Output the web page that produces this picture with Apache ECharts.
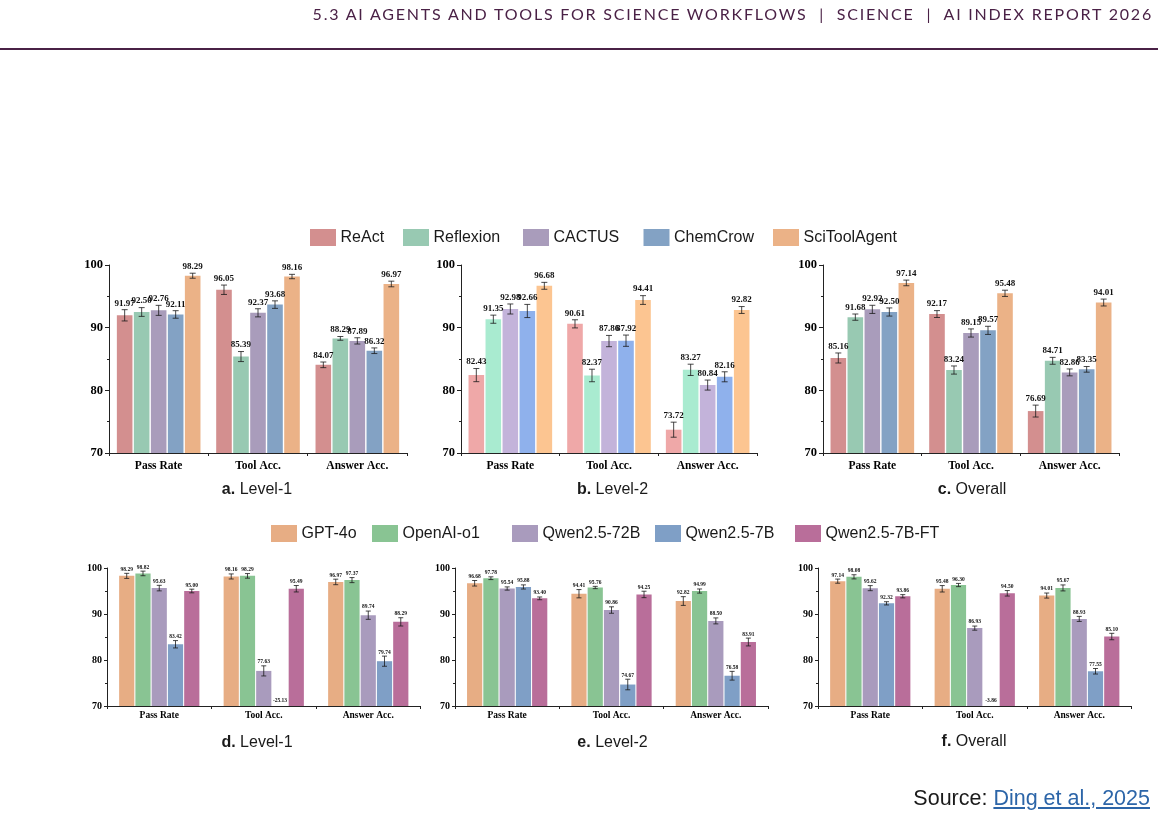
<!DOCTYPE html>
<html><head><meta charset="utf-8">
<script src="https://cdn.jsdelivr.net/npm/echarts@6/dist/echarts.min.js"></script>
<style>
html,body{margin:0;padding:0;width:1158px;height:833px;overflow:hidden;background:#fff;}
#chart{position:absolute;left:0;top:0;width:1158px;height:833px;}
#hdr{position:absolute;right:5px;top:4px;font-family:'Lato','Noto Sans',sans-serif;font-size:16px;letter-spacing:1.8px;color:#4a2146;white-space:nowrap;}
#rule{position:absolute;left:0;top:48px;width:1158px;height:2px;background:#4a2146;}
#src{position:absolute;right:8px;top:786px;font-family:'Liberation Sans',Arial,sans-serif;font-size:21.5px;color:#1a1a1a;white-space:nowrap;}
#src a{color:#2c65a8;text-decoration:underline;}
</style></head>
<body>
<div id="chart"></div>
<div id="hdr">5.3 AI AGENTS AND TOOLS FOR SCIENCE WORKFLOWS &nbsp;|&nbsp; SCIENCE &nbsp;|&nbsp; AI INDEX REPORT 2026</div>
<div id="rule"></div>
<div id="src">Source: <a href="#">Ding et al., 2025</a></div>
<script>
// ---------- DATA ----------
const metrics = ['Pass Rate', 'Tool Acc.', 'Answer Acc.'];
const agents = ['ReAct', 'Reflexion', 'CACTUS', 'ChemCrow', 'SciToolAgent'];
const models = ['GPT-4o', 'OpenAI-o1', 'Qwen2.5-72B', 'Qwen2.5-7B', 'Qwen2.5-7B-FT'];
const yTicks = [70, 80, 90, 100];

// rows = agents / models, columns = metrics
const panelA = [[91.97, 96.05, 84.07], [92.50, 85.39, 88.29], [92.76, 92.37, 87.89], [92.11, 93.68, 86.32], [98.29, 98.16, 96.97]];
const panelAErr = [[0.9, 0.75, 0.45], [0.7, 0.8, 0.3], [0.8, 0.65, 0.5], [0.6, 0.6, 0.45], [0.4, 0.35, 0.45]];
const panelB = [[82.43, 90.61, 73.72], [91.35, 82.37, 83.27], [92.98, 87.86, 80.84], [92.66, 87.92, 82.16], [96.68, 94.41, 92.82]];
const panelBErr = [[1.05, 0.65, 1.2], [0.65, 1.0, 0.9], [0.8, 0.9, 0.8], [1.05, 0.9, 0.8], [0.55, 0.7, 0.55]];
const panelC = [[85.16, 92.17, 76.69], [91.68, 83.24, 84.71], [92.92, 89.15, 82.86], [92.50, 89.57, 83.35], [97.14, 95.48, 94.01]];
const panelCErr = [[0.8, 0.55, 0.95], [0.5, 0.65, 0.55], [0.65, 0.65, 0.55], [0.65, 0.65, 0.45], [0.45, 0.5, 0.55]];
const panelD = [[98.29, 98.16, 96.97], [98.82, 98.29, 97.37], [95.63, 77.63, 89.74], [83.42, 25.13, 79.74], [95.00, 95.49, 88.29]];
const panelDErr = [[0.55, 0.55, 0.6], [0.5, 0.5, 0.55], [0.6, 1.1, 0.9], [0.8, 0, 1.1], [0.4, 0.7, 0.9]];
const panelE = [[96.68, 94.41, 92.82], [97.78, 95.76, 94.99], [95.54, 90.86, 88.50], [95.88, 74.67, 76.58], [93.40, 94.25, 83.91]];
const panelEErr = [[0.6, 0.9, 0.95], [0.3, 0.25, 0.45], [0.35, 0.7, 0.65], [0.45, 1.15, 0.95], [0.3, 0.7, 0.85]];
const panelF = [[97.14, 95.48, 94.01], [98.08, 96.30, 95.67], [95.62, 86.93, 88.93], [92.32, 3.86, 77.55], [93.86, 94.50, 85.10]];
const panelFErr = [[0.45, 0.7, 0.55], [0.45, 0.35, 0.65], [0.55, 0.45, 0.55], [0.35, 0, 0.6], [0.35, 0.6, 0.7]];

const titleLetters = ['a.', 'b.', 'c.', 'd.', 'e.', 'f.'];
const titleNames = ['Level-1', 'Level-2', 'Overall', 'Level-1', 'Level-2', 'Overall'];

// ---------- STYLE / LAYOUT ----------
const agentColors = ['#d38f8f', '#98c9b2', '#a99cbb', '#83a2c4', '#ebb287'];
const agentColorsB = ['#efa8a8', '#a9ebd0', '#c3b3da', '#8fb1ec', '#fcc591'];
const modelColors = ['#e7ad84', '#89c493', '#a99bbd', '#7f9fc6', '#b96e9a'];
const SERIF = '"Liberation Serif","Times New Roman",serif';
const SANS = '"Liberation Sans",Arial,sans-serif';

const panels = [
  {vals: panelA, errs: panelAErr, names: agents, colors: agentColors, grid: {left: 109, width: 298, top: 265, height: 188}, small: false, title: [257, 490]},
  {vals: panelB, errs: panelBErr, names: agents, colors: agentColorsB, grid: {left: 461, width: 296, top: 265, height: 188}, small: false, title: [612.5, 490]},
  {vals: panelC, errs: panelCErr, names: agents, colors: agentColors, grid: {left: 823, width: 296, top: 265, height: 188}, small: false, title: [972, 490]},
  {vals: panelD, errs: panelDErr, names: models, colors: modelColors, grid: {left: 107, width: 313.5, top: 568, height: 138}, small: true, title: [257, 743]},
  {vals: panelE, errs: panelEErr, names: models, colors: modelColors, grid: {left: 455, width: 313, top: 568, height: 138}, small: true, title: [612.5, 743]},
  {vals: panelF, errs: panelFErr, names: models, colors: modelColors, grid: {left: 818, width: 313.5, top: 568, height: 138}, small: true, title: [974, 742]}
];

const topLegendLeft = [310, 403, 523, 643.5, 773];
const botLegendLeft = [271, 372, 512, 655, 795];

const yMin = yTicks[0], yMax = yTicks[yTicks.length - 1];

const option = {
  animation: false,
  grid: [], xAxis: [], yAxis: [], series: [], legend: [], graphic: []
};

panels.forEach((p, gi) => {
  const bw = p.small ? 15.2 : 15.6;
  const gapRatio = p.small ? 0.07 : 0.09;
  option.grid.push(Object.assign({containLabel: false}, p.grid));
  option.xAxis.push({
    type: 'category', gridIndex: gi, data: metrics,
    axisLine: {lineStyle: {color: '#222', width: 1}},
    axisTick: {show: true, length: 3, lineStyle: {color: '#222'}},
    axisLabel: {color: '#000', fontFamily: SERIF, fontWeight: 'bold', fontSize: p.small ? 9.5 : 11.5, margin: p.small ? 5 : 7}
  });
  option.yAxis.push({
    type: 'value', gridIndex: gi, min: yMin, max: yMax, interval: 10,
    splitLine: {show: false},
    axisLine: {show: true, lineStyle: {color: '#222', width: 1}},
    axisTick: {show: true, length: p.small ? 3 : 4, lineStyle: {color: '#222'}},
    minorTick: {show: true, splitNumber: 2, length: 2, lineStyle: {color: '#222'}},
    axisLabel: {color: '#000', fontFamily: SERIF, fontWeight: 'bold', fontSize: p.small ? 10 : 12.5, margin: p.small ? 5 : 6}
  });
  p.names.forEach((nm, si) => {
    option.series.push({
      type: 'bar', name: nm, xAxisIndex: gi, yAxisIndex: gi,
      data: p.vals[si], barWidth: bw, barGap: (gapRatio * 100) + '%',
      itemStyle: {color: p.colors[si]},
      clip: true
    });
  });
  // error bars + value labels
  const data = [];
  p.vals.forEach((row, si) => row.forEach((v, c) => data.push([c, v, p.errs[si][c], si])));
  const n = p.names.length;
  option.series.push({
    type: 'custom', xAxisIndex: gi, yAxisIndex: gi, silent: true, z: 10,
    data: data, encode: {x: 0, y: 1},
    renderItem: function (params, api) {
      const c = api.value(0), v = api.value(1), e = api.value(2), si = api.value(3);
      const gap = bw * gapRatio;
      const group = n * bw + (n - 1) * gap;
      const base = api.coord([c, yMin]);
      const x = base[0] - group / 2 + bw / 2 + si * (bw + gap);
      const children = [];
      const ls = {stroke: '#1a1a1a', lineWidth: 0.8};
      let labelY, text;
      if (v >= yMin) {
        const yt = api.coord([c, v + e])[1], yb = api.coord([c, v - e])[1];
        const cap = p.small ? 2.5 : 3;
        children.push({type: 'line', shape: {x1: x, y1: yt, x2: x, y2: yb}, style: ls});
        children.push({type: 'line', shape: {x1: x - cap, y1: yt, x2: x + cap, y2: yt}, style: ls});
        children.push({type: 'line', shape: {x1: x - cap, y1: yb, x2: x + cap, y2: yb}, style: ls});
        labelY = yt - (p.small ? 1 : 2);
        text = v.toFixed(2);
      } else {
        labelY = base[1] - 2;
        text = '-' + v.toFixed(2);
      }
      children.push({
        type: 'text',
        style: {
          text: text, x: x, y: labelY,
          textAlign: 'center', textVerticalAlign: 'bottom', align: 'center', verticalAlign: 'bottom',
          font: 'bold ' + (p.small ? 5.5 : 9) + 'px ' + SERIF, fill: '#111'
        }
      });
      return {type: 'group', children: children};
    }
  });
  option.graphic.push({
    type: 'text', x: p.title[0], y: p.title[1], z: 20,
    style: {
      text: '{b|' + titleLetters[gi] + '} ' + titleNames[gi],
      textAlign: 'center', textVerticalAlign: 'middle', align: 'center', verticalAlign: 'middle',
      font: '16px ' + SANS, fill: '#1a1a1a',
      rich: {b: {fontWeight: 'bold', fontSize: 16, fontFamily: SANS, fill: '#1a1a1a'}}
    }
  });
});

function addLegend(names, lefts, top) {
  names.forEach((nm, i) => {
    option.legend.push({
      data: [nm], left: lefts[i], top: top, padding: 0, itemGap: 0,
      itemWidth: 26, itemHeight: 17, icon: 'rect', selectedMode: false,
      textStyle: {fontFamily: SANS, fontSize: 16, color: '#1a1a1a', padding: [0, 0, 0, -0.5]}
    });
  });
}
addLegend(agents, topLegendLeft, 229);
addLegend(models, botLegendLeft, 525);

const chart = echarts.init(document.getElementById('chart'), null, {renderer: 'canvas'});
chart.setOption(option);
</script>
</body></html>
